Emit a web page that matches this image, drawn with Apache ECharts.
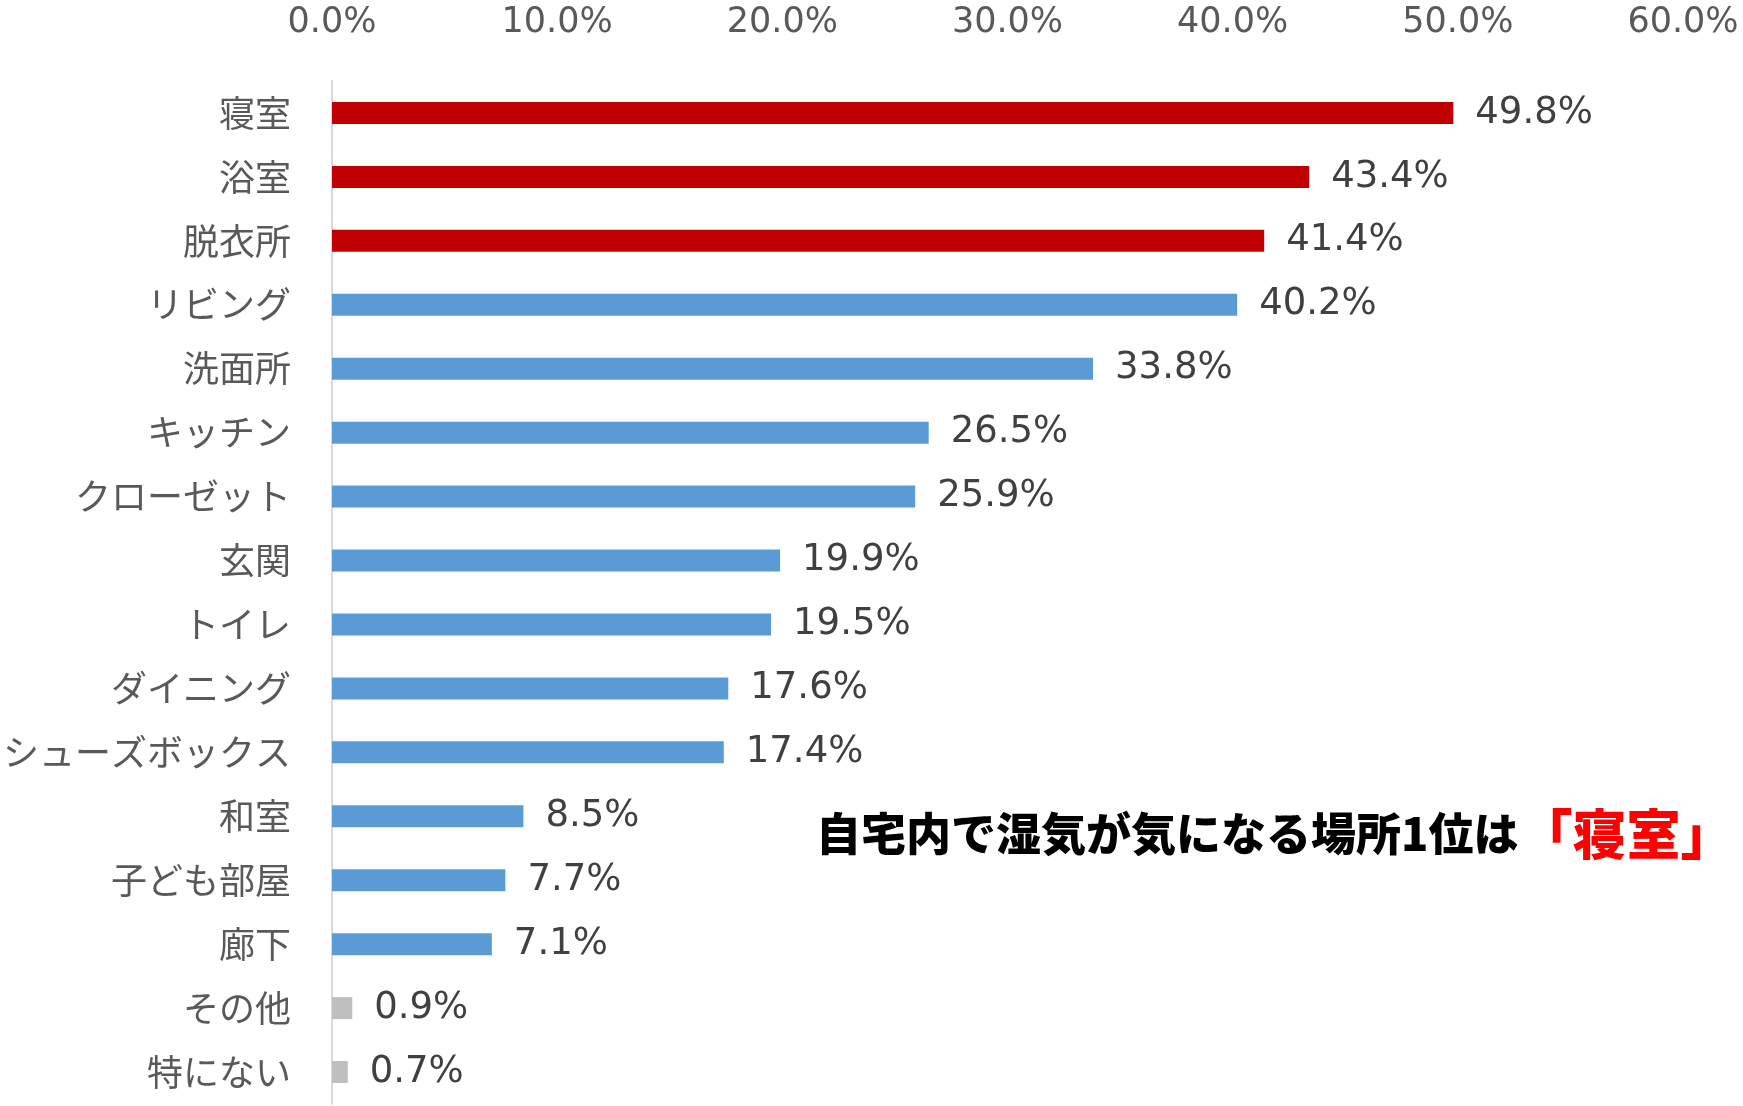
<!DOCTYPE html>
<html>
<head>
<meta charset="utf-8">
<script src="https://cdn.jsdelivr.net/npm/echarts@6/dist/echarts.min.js"></script>
<style>
  html, body { margin: 0; padding: 0; background: #fff; }
  #chart { width: 1743px; height: 1106px; }
</style>
</head>
<body>
<div id="chart"></div>
<script>
const categories = ['寝室', '浴室', '脱衣所', 'リビング', '洗面所', 'キッチン', 'クローゼット', '玄関', 'トイレ', 'ダイニング', 'シューズボックス', '和室', '子ども部屋', '廊下', 'その他', '特にない'];
const values = [49.8, 43.4, 41.4, 40.2, 33.8, 26.5, 25.9, 19.9, 19.5, 17.6, 17.4, 8.5, 7.7, 7.1, 0.9, 0.7];
const topCategories = ['寝室', '浴室', '脱衣所'];
const otherCategories = ['その他', '特にない'];
const tickValues = [0, 10, 20, 30, 40, 50, 60];

const JP_FONT = '"Noto Sans CJK JP", "Noto Sans", sans-serif';
const NUM_FONT = '"DejaVu Sans", "Noto Sans CJK JP", sans-serif';

const barColor = (name) => {
  if (topCategories.includes(name)) return '#c00000';
  if (otherCategories.includes(name)) return '#bfbfbf';
  return '#5b9bd5';
};

const chartDom = document.getElementById('chart');
const myChart = echarts.init(chartDom);

const option = {
  animation: false,
  backgroundColor: '#fff',
  grid: {
    left: 327,
    right: 60,
    top: 81,
    bottom: 2,
    containLabel: false,
  },
  xAxis: {
    type: 'value',
    position: 'top',
    min: tickValues[0],
    max: tickValues[tickValues.length - 1],
    interval: 10,
    axisLine: { show: false },
    axisTick: { show: false },
    splitLine: { show: false },
    axisLabel: {
      margin: 41,
      fontSize: 35,
      fontFamily: NUM_FONT,
      color: '#595959',
      formatter: (v) => v.toFixed(1) + '%',
    },
  },
  yAxis: {
    type: 'category',
    inverse: true,
    data: categories,
    axisLine: { show: true, lineStyle: { color: '#d9d9d9', width: 2 } },
    axisTick: { show: false },
    axisLabel: {
      margin: 41,
      fontSize: 36,
      fontFamily: JP_FONT,
      color: '#595959',
    },
  },
  series: [
    {
      type: 'bar',
      barWidth: 22,
      data: values.map((v, i) => ({
        value: v,
        itemStyle: { color: barColor(categories[i]) },
      })),
      label: {
        show: true,
        position: 'right',
        distance: 22,
        fontSize: 37,
        fontFamily: NUM_FONT,
        color: '#404040',
        padding: [4, 0, 0, 0],
        formatter: (p) => p.value.toFixed(1) + '%',
      },
    },
  ],
  graphic: [
    {
      type: 'text',
      x: 816,
      y: 834,
      style: {
        text: '{a|自宅内で湿気が気になる場所1位は}{b|「寝室」}',
        verticalAlign: 'middle',
        rich: {
          a: { fontSize: 45, fontWeight: 900, fontFamily: JP_FONT, fill: '#000', verticalAlign: 'middle' },
          b: { fontSize: 54, fontWeight: 900, fontFamily: JP_FONT, fill: '#ff0000', verticalAlign: 'middle' },
        },
      },
    },
  ],
};

myChart.setOption(option);
</script>
</body>
</html>
